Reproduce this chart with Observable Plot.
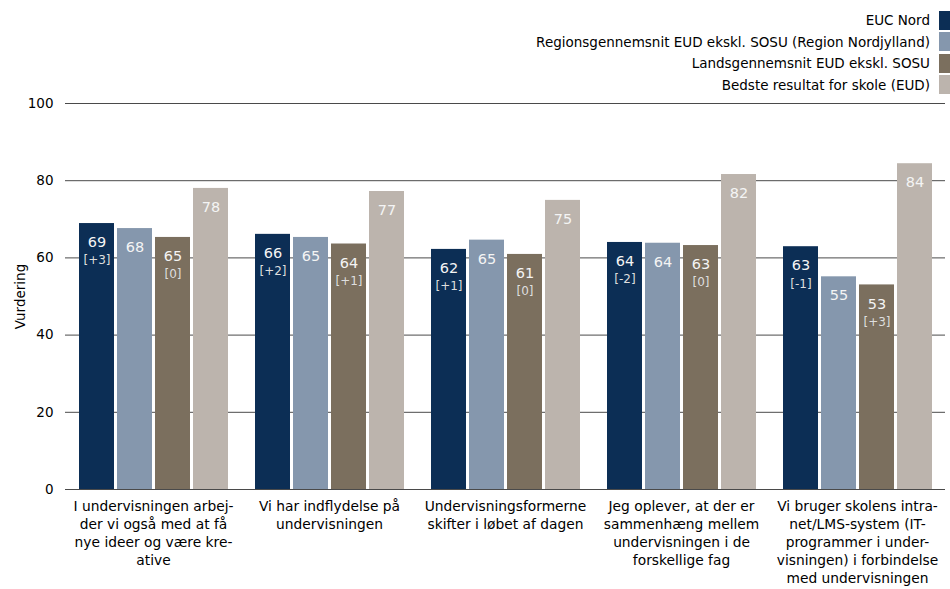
<!DOCTYPE html>
<html>
<head>
<meta charset="utf-8">
<script src="https://cdn.jsdelivr.net/npm/d3@7"></script>
<script src="https://cdn.jsdelivr.net/npm/@observablehq/plot@0.6"></script>
<style>
  html, body { margin: 0; padding: 0; background: #fff; }
  body { width: 950px; font-family: "DejaVu Sans", sans-serif; }
  #legend { height: 96px; box-sizing: border-box; padding-top: 9.5px; }
  .row { display: flex; justify-content: flex-end; align-items: center; height: 21.5px; font-size: 13.5px; color: #000; }
  .sw { width: 11px; height: 19px; margin-left: 9px; margin-right: 0; }
  #chart svg { display: block; }
</style>
</head>
<body>
<div id="legend"></div>
<div id="chart"></div>
<script>
const categories = [
  "I undervisningen arbejder vi også med at få nye ideer og være kreative",
  "Vi har indflydelse på undervisningen",
  "Undervisningsformerne skifter i løbet af dagen",
  "Jeg oplever, at der er sammenhæng mellem undervisningen i de forskellige fag",
  "Vi bruger skolens intranet/LMS-system (IT-programmer i undervisningen) i forbindelse med undervisningen"
];
const tickLabels = [
  "I undervisningen arbej-\nder vi også med at få\nnye ideer og være kre-\native",
  "Vi har indflydelse på\nundervisningen",
  "Undervisningsformerne\nskifter i løbet af dagen",
  "Jeg oplever, at der er\nsammenhæng mellem\nundervisningen i de\nforskellige fag",
  "Vi bruger skolens intra-\nnet/LMS-system (IT-\nprogrammer i under-\nvisningen) i forbindelse\nmed undervisningen"
];
const series = [
  "EUC Nord",
  "Regionsgennemsnit EUD ekskl. SOSU (Region Nordjylland)",
  "Landsgennemsnit EUD ekskl. SOSU",
  "Bedste resultat for skole (EUD)"
];
const colors = ["#0c2e55", "#8597ad", "#7b6f5e", "#bcb4ad"];
const eucNord = [68.9, 66.1, 62.2, 64.0, 62.9];
const region  = [67.6, 65.3, 64.6, 63.8, 55.1];
const lands   = [65.3, 63.6, 60.9, 63.2, 53.0];
const bedste  = [78.0, 77.2, 74.9, 81.6, 84.4];
const eucDelta   = ["+3", "+2", "+1", "-2", "-1"];
const landsDelta = ["0", "+1", "0", "0", "+3"];
const yTicks = [0, 20, 40, 60, 80, 100];

const seriesValues = [eucNord, region, lands, bedste];
const data = [];
categories.forEach((c, i) => {
  series.forEach((s, j) => data.push({cat: c, series: s, value: seriesValues[j][i]}));
});
const deltas = [];
categories.forEach((c, i) => {
  deltas.push({cat: c, series: series[0], value: eucNord[i], delta: eucDelta[i]});
  deltas.push({cat: c, series: series[2], value: lands[i], delta: landsDelta[i]});
});

// legend
const legend = document.getElementById("legend");
series.forEach((s, j) => {
  const row = document.createElement("div");
  row.className = "row";
  const t = document.createElement("span");
  t.textContent = s;
  const sw = document.createElement("span");
  sw.className = "sw";
  sw.style.background = colors[j];
  row.appendChild(t); row.appendChild(sw);
  legend.appendChild(row);
});

const chart = Plot.plot({
  width: 950,
  height: 493,
  marginLeft: 65,
  marginRight: 5,
  marginTop: 7,
  marginBottom: 100,
  style: {fontFamily: "DejaVu Sans, sans-serif", fontSize: "13.5px", color: "#000", background: "#fff"},
  fx: {domain: categories, padding: 0},
  x: {domain: series, paddingInner: 0.086, paddingOuter: 0.34, axis: null},
  y: {domain: [0, 100]},
  color: {domain: series, range: colors},
  marks: [
    Plot.ruleY(yTicks, {stroke: "#4a4a4a", strokeWidth: 1}),
    Plot.barY(data, {fx: "cat", x: "series", y: "value", fill: "series"}),
    Plot.text(data, {fx: "cat", x: "series", y: "value", text: d => String(Math.round(d.value)), dy: 19, fill: "#f4f4f4", fontSize: 14.5}),
    Plot.text(deltas, {fx: "cat", x: "series", y: "value", text: d => `[${d.delta}]`, dy: 37, fill: "#dedede", fontSize: 12}),
    Plot.axisY({ticks: yTicks, tickSize: 0, tickPadding: 12, fontSize: 13.5, label: "Vurdering", labelAnchor: "center", labelArrow: "none", labelOffset: 50}),
    Plot.axisFx({anchor: "bottom", tickSize: 0, tickPadding: 9, fontSize: 13.8, lineHeight: 1.3, label: null,
      tickFormat: d => tickLabels[categories.indexOf(d)]})
  ]
});
document.getElementById("chart").appendChild(chart);
</script>
</body>
</html>
